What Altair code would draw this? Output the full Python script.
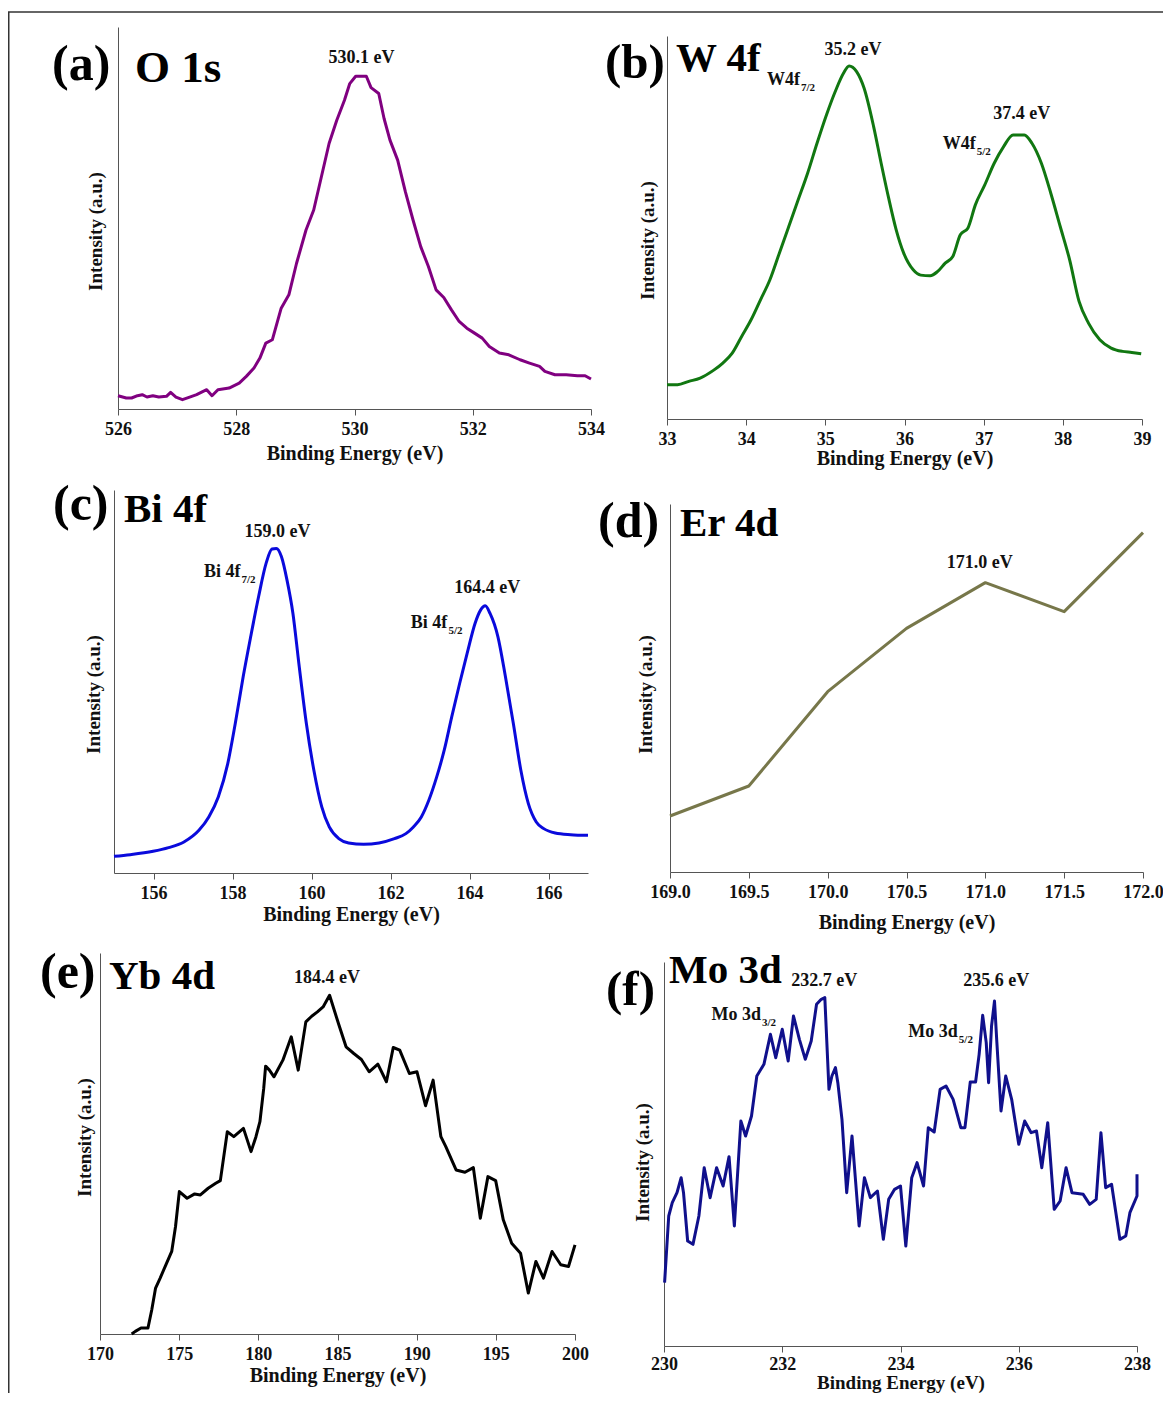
import altair as alt
import pandas as pd

SERIF = "Liberation Serif"

# ---------------- data ----------------
# (a) O 1s
a_energy = [526.00, 526.14, 526.23, 526.33, 526.41, 526.49, 526.59, 526.69, 526.82, 526.89,
            526.98, 527.09, 527.20, 527.33, 527.50, 527.59, 527.69, 527.88, 528.05, 528.17,
            528.30, 528.40, 528.50, 528.61, 528.76, 528.89, 529.02, 529.18, 529.31, 529.44,
            529.57, 529.70, 529.83, 529.92, 530.02, 530.20, 530.28, 530.41, 530.50, 530.60,
            530.73, 530.86, 530.99, 531.12, 531.25, 531.38, 531.51, 531.64, 531.77, 531.90,
            532.03, 532.16, 532.28, 532.45, 532.61, 532.80, 532.96, 533.13, 533.22, 533.39,
            533.58, 533.77, 533.90, 534.00]
a_intensity = [40, 33, 33, 40, 43, 36, 40, 36, 38, 50,
               36, 28, 35, 43, 58, 40, 58, 63, 78, 98,
               123, 153, 198, 208, 303, 343, 438, 538, 598, 698,
               798, 868, 928, 978, 1000, 1000, 966, 948, 873, 808,
               748, 653, 568, 488, 428, 358, 335, 298, 263, 243,
               228, 213, 188, 168, 163, 148, 138, 128, 113, 103,
               103, 100, 100, 90]

# (b) W 4f
b_energy = [33.000, 33.133, 33.276, 33.419, 33.586, 33.705, 33.824, 33.943, 34.062, 34.181,
            34.300, 34.419, 34.538, 34.657, 34.776, 34.895, 35.014, 35.133, 35.229, 35.300,
            35.395, 35.490, 35.610, 35.705, 35.800, 35.895, 35.990, 36.110, 36.205, 36.324,
            36.419, 36.514, 36.610, 36.705, 36.800, 36.895, 37.014, 37.133, 37.252, 37.371,
            37.514, 37.610, 37.729, 37.848, 37.967, 38.086, 38.205, 38.324, 38.467, 38.610,
            38.752, 38.871, 38.990]
b_intensity = [103, 103, 113, 123, 146, 168, 198, 248, 298, 358,
               418, 498, 578, 658, 738, 828, 913, 988, 1038, 1060,
               1043, 993, 878, 768, 663, 568, 498, 448, 432, 430,
               443, 468, 488, 553, 573, 643, 703, 768, 818, 853,
               853, 828, 768, 678, 578, 478, 353, 288, 238, 213,
               203, 200, 196]

# (c) Bi 4f
c_energy = [155.00, 155.41, 155.99, 156.38, 156.77, 157.15, 157.40, 157.64, 157.88, 158.07,
            158.27, 158.46, 158.66, 158.85, 159.00, 159.11, 159.24, 159.38, 159.53, 159.68,
            159.87, 160.06, 160.26, 160.45, 160.69, 160.94, 161.32, 161.71, 162.10, 162.39,
            162.58, 162.78, 162.97, 163.17, 163.36, 163.55, 163.75, 163.94, 164.14, 164.28,
            164.40, 164.52, 164.72, 164.91, 165.11, 165.30, 165.49, 165.69, 165.88, 166.17,
            166.56, 167.00]
c_intensity = [50, 55, 65, 76, 93, 128, 168, 228, 328, 448,
               588, 708, 828, 928, 971, 973, 948, 878, 778, 628,
               448, 308, 198, 138, 103, 90, 86, 90, 103, 118,
               138, 168, 218, 288, 368, 468, 568, 658, 748, 788,
               801, 778, 708, 588, 448, 308, 208, 153, 133, 120,
               115, 113]

# (d) Er 4d
d_energy = [169.0, 169.5, 170.0, 170.5, 171.0, 171.5, 172.0]
d_intensity = [168, 258, 541, 731, 868, 781, 1018]

# (e) Yb 4d
e_energy = [172.00, 172.23, 172.59, 173.03, 173.27, 173.51, 173.80, 174.16, 174.53, 174.77,
            175.01, 175.50, 175.98, 176.34, 176.83, 177.31, 177.60, 178.04, 178.45, 179.06,
            179.54, 179.85, 180.10, 180.34, 180.46, 180.70, 180.99, 181.55, 182.08, 182.52,
            183.00, 183.37, 183.73, 184.09, 184.50, 185.06, 185.54, 186.03, 186.51, 187.00,
            187.55, 188.09, 188.52, 188.93, 189.54, 190.02, 190.56, 191.04, 191.53, 191.84,
            192.49, 193.05, 193.58, 194.02, 194.50, 194.99, 195.47, 196.00, 196.56, 197.05,
            197.53, 198.01, 198.55, 199.10, 199.59, 200.00]
e_intensity = [0, 8, 18, 18, 73, 138, 168, 208, 248, 323,
               428, 408, 421, 418, 438, 453, 461, 608, 593, 618,
               548, 593, 638, 738, 805, 793, 773, 823, 893, 793,
               938, 955, 968, 983, 1018, 933, 863, 843, 825, 788,
               811, 758, 861, 853, 783, 788, 686, 763, 593, 563,
               493, 486, 500, 348, 473, 461, 343, 273, 243, 123,
               218, 168, 248, 208, 203, 268]

# (f) Mo 3d
f_energy = [230.01, 230.08, 230.14, 230.22, 230.29, 230.33, 230.40, 230.49, 230.59, 230.68,
            230.78, 230.89, 231.00, 231.10, 231.19, 231.30, 231.38, 231.48, 231.57, 231.69,
            231.80, 231.89, 232.00, 232.10, 232.19, 232.29, 232.39, 232.49, 232.58, 232.66,
            232.72, 232.79, 232.84, 232.90, 232.94, 233.01, 233.09, 233.18, 233.30, 233.39,
            233.49, 233.61, 233.71, 233.80, 233.90, 234.00, 234.09, 234.19, 234.28, 234.39,
            234.47, 234.57, 234.67, 234.77, 234.89, 235.02, 235.09, 235.18, 235.27, 235.33,
            235.39, 235.45, 235.49, 235.54, 235.59, 235.63, 235.70, 235.78, 235.88, 236.00,
            236.10, 236.21, 236.30, 236.39, 236.49, 236.60, 236.70, 236.80, 236.90, 237.09,
            237.20, 237.31, 237.39, 237.47, 237.57, 237.71, 237.81, 237.88, 238.00, 238.00]
f_intensity = [190, 390, 430, 460, 505, 460, 315, 305, 390, 535,
               445, 535, 480, 568, 360, 675, 630, 690, 810, 845,
               935, 865, 950, 855, 990, 920, 860, 915, 1025, 1040,
               1045, 770, 810, 835, 790, 680, 460, 630, 360, 505,
               445, 465, 320, 440, 470, 480, 300, 505, 550, 480,
               655, 642, 770, 780, 740, 655, 655, 792, 792, 875,
               992, 910, 790, 960, 1035, 910, 705, 810, 740, 605,
               675, 640, 645, 535, 670, 410, 435, 535, 460, 455,
               425, 440, 640, 475, 485, 320, 330, 400, 450, 515]

# tick values
a_ticks = [526, 528, 530, 532, 534]
b_ticks = [33, 34, 35, 36, 37, 38, 39]
c_ticks = [156, 158, 160, 162, 164, 166]
d_ticks = [169.0, 169.5, 170.0, 170.5, 171.0, 171.5, 172.0]
e_ticks = [170, 175, 180, 185, 190, 195, 200]
f_ticks = [230, 232, 234, 236, 238]

# peak annotations
a_peak_e = [530.12]; a_peak_i = [1040]; a_peak_t = ["530.1 eV"]
b_peak_e = [35.35, 37.48]; b_peak_i = [1093, 900]; b_peak_t = ["35.2 eV", "37.4 eV"]
c_peak_e = [159.14, 164.45]; c_peak_i = [1008, 838]; c_peak_t = ["159.0 eV", "164.4 eV"]
d_peak_e = [170.965]; d_peak_i = [911]; d_peak_t = ["171.0 eV"]
e_peak_e = [184.33]; e_peak_i = [1055]; e_peak_t = ["184.4 eV"]
f_peak_e = [232.71, 235.62]; f_peak_i = [1080, 1080]; f_peak_t = ["232.7 eV", "235.6 eV"]

# orbital labels (main text ends at energy, subscript starts there)
b_orb_e = [34.68, 36.90]; b_orb_i = [1003, 810]; b_orb_t = ["W4f", "W4f"]; b_sub_t = ["7/2", "5/2"]
c_orb_e = [158.20, 163.44]; c_orb_i = [886, 733]; c_orb_t = ["Bi 4f", "Bi 4f"]; c_sub_t = ["7/2", "5/2"]
f_orb_e = [231.64, 234.97]; f_orb_i = [978, 926]; f_orb_t = ["Mo 3d", "Mo 3d"]; f_sub_t = ["3/2", "5/2"]

W, H = 1155, 1385
AX = "#555555"
TXT = "#111111"
one = pd.DataFrame({"k": [0]})


def panel(energy, intensity, color, xdom, xrng, ydom, yrng, ticks, fmt,
          xoff, yoff, xtp, ytp, ty, peaks, orbs=None, interp="linear", sw=3,
          xtitle_y=None, lpad=5, xtfs=20):
    df = pd.DataFrame({"E": energy, "I": intensity, "i": list(range(len(energy)))})
    xaxis_kw = dict(title="Binding Energy (eV)", orient="bottom", offset=xoff,
                    values=ticks, format=fmt, grid=False, tickSize=6,
                    tickColor=AX, domainColor=AX, domainWidth=1, tickWidth=1,
                    labelFont=SERIF, labelFontSize=18, labelFontWeight="bold",
                    labelColor=TXT, labelPadding=lpad, labelFlush=False,
                    labelOverlap=False, titleFont=SERIF, titleFontSize=xtfs,
                    titleFontWeight="bold", titleColor=TXT, titlePadding=xtp)
    if xtitle_y is not None:
        xaxis_kw.update(titleY=xtitle_y, titleBaseline="alphabetic")
    xenc = alt.X("E:Q",
                 scale=alt.Scale(domain=xdom, range=xrng, nice=False, zero=False),
                 axis=alt.Axis(**xaxis_kw))
    yenc = alt.Y("I:Q",
                 scale=alt.Scale(domain=ydom, range=yrng, nice=False, zero=False),
                 axis=alt.Axis(title="Intensity (a.u.)", orient="left", offset=yoff,
                               grid=False, ticks=False, labels=False, domainColor=AX,
                               domainWidth=1, titleFont=SERIF, titleFontSize=19,
                               titleFontWeight="bold", titleColor=TXT, titlePadding=ytp,
                               titleY=ty))
    layers = [alt.Chart(df).mark_line(color=color, strokeWidth=sw, interpolate=interp,
                                      strokeJoin="round")
              .encode(x=xenc, y=yenc, order="i:Q")]
    pe, pi, pt = peaks
    pdf = pd.DataFrame({"E": pe, "I": pi, "t": pt})
    layers.append(alt.Chart(pdf).mark_text(font=SERIF, fontSize=18, fontWeight="bold",
                                           color=TXT, align="center", baseline="alphabetic")
                  .encode(x=xenc, y=yenc, text="t:N"))
    if orbs is not None:
        oe, oi, ot, st = orbs
        odf = pd.DataFrame({"E": oe, "I": oi, "t": ot, "s": st})
        layers.append(alt.Chart(odf).mark_text(font=SERIF, fontSize=18, fontWeight="bold",
                                               color=TXT, align="right", baseline="alphabetic")
                      .encode(x=xenc, y=yenc, text="t:N"))
        layers.append(alt.Chart(odf).mark_text(font=SERIF, fontSize=11, fontWeight="bold",
                                               color=TXT, align="left", baseline="alphabetic",
                                               dx=1, dy=6)
                      .encode(x=xenc, y=yenc, text="s:N"))
    return alt.layer(*layers)


def label(text, x, y, size):
    return alt.Chart(one).mark_text(text=text, font=SERIF, fontSize=size, fontWeight="bold",
                                    color="#000000", align="left", baseline="alphabetic"
                                    ).encode(x=alt.value(x), y=alt.value(y))


pa = panel(a_energy, a_intensity, "#800080", [526, 534], [110, 583], [0, 1148], [401, 19],
           a_ticks, "d", 401 - H, -110, 5, 13, 223, (a_peak_e, a_peak_i, a_peak_t))
pb = panel(b_energy, b_intensity, "#117711", [33, 39], [659, 1134], [0, 1150], [411, 28],
           b_ticks, "d", 411 - H, -659, 0, 10, 232, (b_peak_e, b_peak_i, b_peak_t),
           (b_orb_e, b_orb_i, b_orb_t, b_sub_t), interp="monotone")
pc = panel(c_energy, c_intensity, "#0A0ADC", [155, 167], [106, 580], [0, 1148], [865, 482],
           c_ticks, "d", 865 - H, -106, 2, 11, 686, (c_peak_e, c_peak_i, c_peak_t),
           (c_orb_e, c_orb_i, c_orb_t, c_sub_t), interp="monotone")
pd_ = panel(d_energy, d_intensity, "#77774A", [169, 172], [662, 1135], [0, 1104], [864, 496],
            d_ticks, ".1f", 864 - H, -662, 11, 15, 686, (d_peak_e, d_peak_i, d_peak_t))
pe_ = panel(e_energy, e_intensity, "#000000", [170, 200], [92, 567], [0, 1145], [1326, 945],
            e_ticks, "d", 1326 - H, -92, 2, 6, 1129, (e_peak_e, e_peak_i, e_peak_t))
pf = panel(f_energy, f_intensity, "#10108C", [230, 238], [656, 1129], [0, 1152], [1338, 954],
           f_ticks, "d", 1338 - H, -656, 0, 12, 1154, (f_peak_e, f_peak_i, f_peak_t),
           (f_orb_e, f_orb_i, f_orb_t, f_sub_t), xtitle_y=42, lpad=3, xtfs=19)

labels = [
    label("(a)", 44, 72, 50), label("O 1s", 127, 74, 45),
    label("(b)", 597, 70, 49), label("W 4f", 668, 63, 41),
    label("(c)", 45, 512, 50), label("Bi 4f", 116, 514, 41),
    label("(d)", 590, 529, 50), label("Er 4d", 672, 528, 41),
    label("(e)", 32, 980, 50), label("Yb 4d", 101, 981, 41),
    label("(f)", 598, 997, 49), label("Mo 3d", 661, 975, 41),
]

frame_top = alt.Chart(one).mark_rule(color="#333333", strokeWidth=1.5).encode(
    x=alt.value(0), x2=alt.value(W), y=alt.value(4))
frame_left = alt.Chart(one).mark_rule(color="#333333", strokeWidth=1.5).encode(
    x=alt.value(0.75), y=alt.value(4), y2=alt.value(H))

chart = alt.layer(pa, pb, pc, pd_, pe_, pf, *labels, frame_top, frame_left).resolve_scale(
    x="independent", y="independent"
).resolve_axis(
    x="independent", y="independent"
).properties(
    width=W, height=H, autosize=alt.AutoSizeParams(type="none"), padding=0
).configure_view(stroke=None)

chart.save("out.html", embed_options={"renderer": "svg", "actions": False})
